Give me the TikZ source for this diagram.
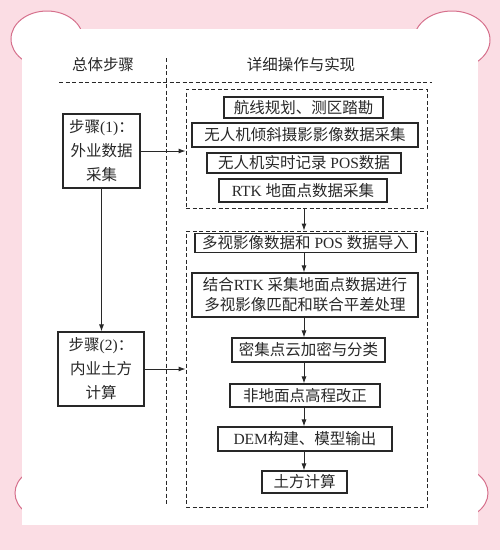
\documentclass[tikz,border=0pt]{standalone}
\usepackage{fontspec}
\setmainfont{Noto Sans CJK SC}
\newfontfamily\latf{Liberation Serif}
\newcommand{\lt}[1]{{\latf #1}}
\usetikzlibrary{arrows.meta}
\definecolor{bgpink}{RGB}{251,221,228}
\definecolor{arcpink}{RGB}{214,112,140}
\definecolor{ink}{RGB}{40,40,40}
\begin{document}
\begin{tikzpicture}[x=1pt,y=-1pt,
  txt/.style={font=\fontsize{15.5}{20}\selectfont, text=ink},
  box/.style={txt, draw=ink, line width=1.15pt, inner sep=0pt, align=center},
  stepbox/.style={txt, draw=ink, line width=1.15pt, inner sep=0pt, align=center, font=\fontsize{15.5}{24}\selectfont},
  grp/.style={draw=ink, line width=0.9pt, dash pattern=on 4pt off 2.5pt, inner sep=0pt},
  divline/.style={draw=ink, line width=0.9pt, dash pattern=on 4pt off 2.5pt},
  arr/.style={draw=ink, line width=0.9pt, -{Latex[length=7pt,width=5pt]}}]
\useasboundingbox (0,0) rectangle (500,550);
\fill[bgpink] (0,0) rectangle (500,550);
% corner ellipses
\filldraw[fill=white, draw=arcpink, line width=1pt] (47,39) ellipse [x radius=36pt, y radius=28pt];
\filldraw[fill=white, draw=arcpink, line width=1pt] (452,40) ellipse [x radius=38pt, y radius=29pt];
\filldraw[fill=white, draw=arcpink, line width=1pt] (51,493) ellipse [x radius=36pt, y radius=27pt];
\filldraw[fill=white, draw=arcpink, line width=1pt] (452,493) ellipse [x radius=36pt, y radius=27pt];
\fill[white] (22,29) rectangle (478,525);
% headers and dividers
\node[txt] (h1) at (103,65) {总体步骤};
\node[txt] (h2) at (301,65) {详细操作与实现};
\draw[divline] (166,58) -- (166,505);
\draw[divline] (59,82) -- (432,82);
% groups
\node[grp, minimum width=241pt, minimum height=119pt] (g1) at (306.5,148.5) {};
\node[grp, minimum width=241pt, minimum height=276pt] (g2) at (306.5,369) {};
% step boxes
\node[stepbox, minimum width=77pt, minimum height=74pt] (s1) at (101.5,151) {步骤\lt{(1)}：\\外业数据\\采集};
\node[stepbox, minimum width=86pt, minimum height=74pt] (s2) at (101,369) {步骤\lt{(2)}：\\内业土方\\计算};
% upper boxes
\node[box, minimum width=159pt, minimum height=21pt] (b1) at (303.5,107.5) {航线规划、测区踏勘};
\node[box, minimum width=226pt, minimum height=24pt] (b2) at (305,135) {无人机倾斜摄影影像数据采集};
\node[box, minimum width=194pt, minimum height=20pt] (b3) at (304,163) {无人机实时记录\lt{ POS}数据};
\node[box, minimum width=168pt, minimum height=23pt] (b4) at (303,190.5) {\lt{RTK }地面点数据采集};
% lower boxes
\node[box, minimum width=221pt, minimum height=19pt] (b5) at (305.5,243) {多视影像数据和\lt{ POS }数据导入};
\node[box, minimum width=226pt, minimum height=44pt] (b6) at (305,295) {结合\lt{RTK }采集地面点数据进行\\多视影像匹配和联合平差处理};
\node[box, minimum width=153pt, minimum height=24pt] (b7) at (308.5,350) {密集点云加密与分类};
\node[box, minimum width=150pt, minimum height=23pt] (b8) at (305,395.5) {非地面点高程改正};
\node[box, minimum width=174pt, minimum height=24pt] (b9) at (305,439) {\lt{DEM}构建、模型输出};
\node[box, minimum width=85pt, minimum height=22pt] (b10) at (304.5,482) {土方计算};
% connectors
\coordinate (ax) at (304,0);
\draw[arr] (s1.east) -- (s1.east -| g1.west);
\draw[arr] (s1.south) -- (s1.south |- s2.north);
\draw[arr] (s2.east) -- (s2.east -| g2.west);
\draw[arr] (g1.south -| ax) -- (g2.north -| ax);
\draw[arr] (b5.south -| ax) -- (b6.north -| ax);
\draw[arr] (b6.south -| ax) -- (b7.north -| ax);
\draw[arr] (b7.south -| ax) -- (b8.north -| ax);
\draw[arr] (b8.south -| ax) -- (b9.north -| ax);
\draw[arr] (b9.south -| ax) -- (b10.north -| ax);
\end{tikzpicture}
\end{document}
